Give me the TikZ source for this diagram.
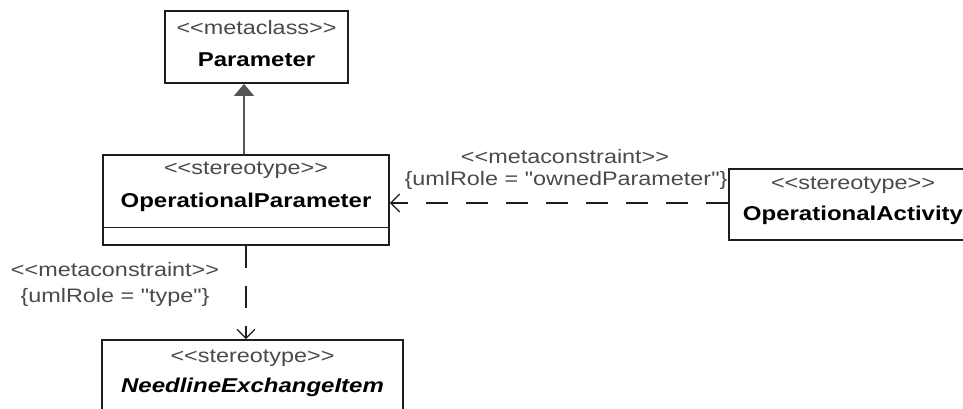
\documentclass[tikz,border=0pt]{standalone}
\usepackage{fontspec}
\setmainfont[FakeStretch=1.2,Ligatures=TeXOff]{Liberation Sans}
\usetikzlibrary{arrows.meta,positioning,calc}
\definecolor{boxc}{HTML}{1E1E1E}
\definecolor{stc}{HTML}{4A4A4A}
\definecolor{genc}{HTML}{555555}
\tikzset{umlbox/.style={rectangle,draw=boxc,line width=1.8pt,fill=white,inner sep=0pt},
  stereo/.style={font=\fontsize{19.5}{19.5}\selectfont,text=stc,inner sep=0pt},
  clsname/.style={font=\fontsize{20}{20}\selectfont\bfseries,text=black,inner sep=0pt},
  cstr/.style={font=\fontsize{19.5}{19.5}\selectfont,text=stc,inner sep=0pt},
  dep/.style={draw=boxc,line width=1.3pt,dash pattern=on 22pt off 18pt,
    -{Straight Barb[length=9pt,width=18pt,line width=1.2pt]}},
  gen/.style={draw=genc,line width=1.4pt,-{Triangle[length=12pt,width=20pt,fill=genc]}}}

\begin{document}
\begin{tikzpicture}[x=1pt,y=-1pt]
\useasboundingbox (0,0) rectangle (963,408);
\clip (0,0) rectangle (963,408);
% classes
\node[umlbox,minimum width=183pt,minimum height=72pt] (param) at (256.5,47) {};
\node[umlbox,minimum width=286pt,minimum height=90pt] (oppar) at (246,200) {};
\node[umlbox,minimum width=248pt,minimum height=71pt] (opact) at (853,204.5) {};
\node[umlbox,minimum width=301pt,minimum height=80pt] (need) at (252.5,380) {};
\draw[boxc,line width=1pt] (oppar.west |- 0,227) -- (oppar.east |- 0,227);
% texts
\node[stereo] (paramst) at (256.5,28) {<<metaclass>>};
\node[clsname] (paramnm) at (256.5,60) {Parameter};
\node[stereo] (opparst) at (246,170) {<<stereotype>>};
\node[clsname] (opparnm) at (246,202) {OperationalParameter};
\node[stereo] (opactst) at (853,185) {<<stereotype>>};
\node[clsname] (opactnm) at (853,215) {OperationalActivity};
\node[stereo] (needst) at (252.5,358) {<<stereotype>>};
\node[clsname,font=\fontsize{20}{20}\selectfont\bfseries\itshape] (neednm) at (252.5,387) {NeedlineExchangeItem};
% connectors
\draw[gen] (oppar.north -| 244,0) -- (param.south -| 244,0);
\draw[dep] (opact.west |- 0,203) -- (oppar.east |- 0,203);
\draw[dep] (oppar.south) -- (need.north -| oppar.south);
\node[cstr] (mc1) at (565,157) {<<metaconstraint>>};
\node[cstr] (role1) at (566,180) {\{umlRole = "ownedParameter"\}};
\node[cstr] (mc2) at (115,270) {<<metaconstraint>>};
\node[cstr] (role2) at (115,297) {\{umlRole = "type"\}};
\end{tikzpicture}
\end{document}
